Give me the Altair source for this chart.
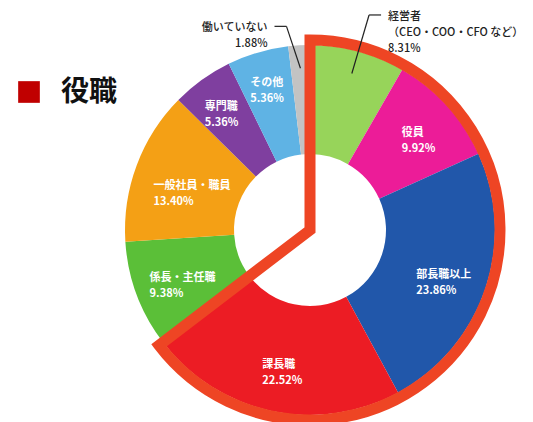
import math
import altair as alt
import pandas as pd

# ---- data ----
categories = ["経営者", "役員", "部長職以上", "課長職", "係長・主任職",
              "一般社員・職員", "専門職", "その他", "働いていない"]
values = [8.31, 9.92, 23.86, 22.52, 9.38, 13.40, 5.36, 5.36, 1.88]
display_names = ["経営者\n（CEO・COO・CFO など）", "役員", "部長職以上", "課長職",
                 "係長・主任職", "一般社員・職員", "専門職", "その他", "働いていない"]
outside_labels = ["経営者", "働いていない"]
highlighted = ["経営者", "役員", "部長職以上", "課長職"]
title_text = "役職"

# ---- styles ----
colors = ["#97D45A", "#EC1C98", "#2157AA", "#EC1C24", "#5BBF38",
          "#F4A015", "#7F3F9F", "#5FB3E4", "#C3C3C3"]
FONT = "Noto Sans CJK JP"
FS = 11
W = H = 380
R_IN, R_OUT = 76, 185
R_HL = 190
R_LEAD1 = 162
# label placement (distance of the label block centre from the pie centre)
LABEL_R = {"役員": 145, "部長職以上": 141, "課長職": 138, "係長・主任職": 136,
           "一般社員・職員": 126, "専門職": 152, "その他": 153}
# leader elbow: (radius, angular shift in degrees)
LEAD_ELBOW = {"経営者": (223, 0.4), "働いていない": (205, -3.2)}
HALF = W / 2


def text_width(s, fs=FS):
    w = 0.0
    for c in s:
        if ord(c) > 0x2000:
            w += fs
        elif c == "%":
            w += fs * 0.85
        elif c in ". ":
            w += fs * 0.3
        else:
            w += fs * 0.57
    return w


total = sum(values)
rows, inner_rows, outer_rows, lead_rows = [], [], [], []
cum = 0.0
for i, (cat, v, name) in enumerate(zip(categories, values, display_names)):
    mid = (cum + v / 2) / total * 2 * math.pi
    cum += v
    label = f"{name}\n{v:.2f}%"
    rows.append({"idx": i, "category": cat, "value": v})
    if cat in outside_labels:
        r2, shift = LEAD_ELBOW[cat]
        a2 = mid + math.radians(shift)
        x1, y1 = R_LEAD1 * math.sin(mid), R_LEAD1 * math.cos(mid)
        x2, y2 = r2 * math.sin(a2), r2 * math.cos(a2)
        side = 1 if math.sin(mid) > 0 else -1
        x3 = x2 + side * 12
        lead_rows.append({"x": x1, "y": y1, "x2": x2, "y2": y2})
        lead_rows.append({"x": x2, "y": y2, "x2": x3, "y2": y2})
        outer_rows.append({"label": label, "x": x3 + side * 7, "y": y2,
                           "side": "right" if side > 0 else "left"})
    else:
        bw = max(text_width(s) for s in label.split("\n"))
        r = LABEL_R[cat]
        cx, cy = r * math.sin(mid), r * math.cos(mid)
        inner_rows.append({"label": label, "x": cx - bw / 2, "y": cy})

df = pd.DataFrame(rows)
hl_end = sum(v for c, v in zip(categories, values) if c in highlighted)
hl_df = pd.DataFrame([{"t0": 0.0, "t1": hl_end}])
inner_df = pd.DataFrame(inner_rows)
outer_df = pd.DataFrame(outer_rows)
lead_df = pd.DataFrame(lead_rows)

xs = alt.Scale(domain=[-HALF, HALF], nice=False, zero=False)
ys = alt.Scale(domain=[-HALF, HALF], nice=False, zero=False)

slices = alt.Chart(df).mark_arc(innerRadius=R_IN, outerRadius=R_OUT).encode(
    theta=alt.Theta("value:Q", stack=True),
    color=alt.Color("category:N", scale=alt.Scale(domain=categories, range=colors), legend=None),
    order=alt.Order("idx:Q"),
)

outline = alt.Chart(hl_df).mark_arc(
    innerRadius=0, outerRadius=R_HL, fillOpacity=0, stroke="#EE4524",
    strokeWidth=11, strokeJoin="miter", strokeMiterLimit=20,
).encode(theta=alt.Theta("t0:Q"), theta2="t1:Q")

inner_text = alt.Chart(inner_df).mark_text(
    align="left", baseline="middle", lineBreak="\n", lineHeight=16,
    font=FONT, fontSize=FS, fontWeight=600, color="white",
).encode(
    x=alt.X("x:Q", scale=xs, axis=None),
    y=alt.Y("y:Q", scale=ys, axis=None),
    text="label:N",
)

leaders = alt.Chart(lead_df).mark_rule(color="#222222", strokeWidth=1.2).encode(
    x=alt.X("x:Q", scale=xs, axis=None),
    y=alt.Y("y:Q", scale=ys, axis=None),
    x2="x2:Q", y2="y2:Q",
)

outer_right = alt.Chart(outer_df[outer_df.side == "right"]).mark_text(
    align="left", baseline="top", dy=-4, lineBreak="\n", lineHeight=16,
    font=FONT, fontSize=FS, fontWeight=500, color="#222222",
).encode(
    x=alt.X("x:Q", scale=xs, axis=None),
    y=alt.Y("y:Q", scale=ys, axis=None),
    text="label:N",
)
outer_left = alt.Chart(outer_df[outer_df.side == "left"]).mark_text(
    align="right", baseline="top", dy=-4, lineBreak="\n", lineHeight=16,
    font=FONT, fontSize=FS, fontWeight=500, color="#222222",
).encode(
    x=alt.X("x:Q", scale=xs, axis=None),
    y=alt.Y("y:Q", scale=ys, axis=None),
    text="label:N",
)

title_df = pd.DataFrame([{"t": title_text}])
title_sq = alt.Chart(title_df).mark_square(size=470, color="#C00000", opacity=1).encode(
    x=alt.value(-91), y=alt.value(52)
)
title_tx = alt.Chart(title_df).mark_text(
    align="left", baseline="middle", font=FONT, fontSize=28, fontWeight="bold", color="#111111"
).encode(x=alt.value(-59), y=alt.value(53), text="t:N")

chart = alt.layer(
    slices, outline, inner_text, leaders, outer_right, outer_left, title_sq, title_tx
).properties(
    width=W, height=H, autosize="none",
    padding={"left": 120, "top": 40, "right": 33, "bottom": 2},
    background="white",
).configure_view(stroke=None)

chart.save("out.html", embed_options={"renderer": "svg", "actions": False})
